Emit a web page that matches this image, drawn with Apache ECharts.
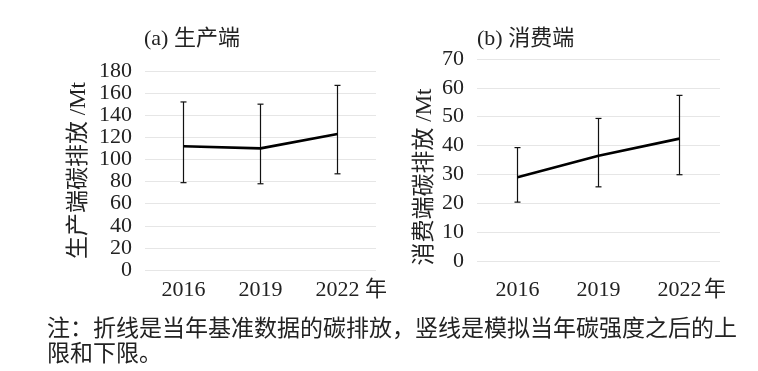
<!DOCTYPE html>
<html>
<head>
<meta charset="utf-8">
<script src="https://cdn.jsdelivr.net/npm/echarts@6/dist/echarts.min.js"></script>
<style>
html,body{margin:0;padding:0;background:#fff;}
#c{width:758px;height:371px;}
</style>
</head>
<body>
<div id="c"></div>
<script>
const years = ['2016', '2019', '2022'];
const prodValues = [112, 110, 123];
const prodUpper = [152, 150, 167];
const prodLower = [79, 78, 87];
const consValues = [29, 36.5, 42.4];
const consUpper = [39.3, 49.4, 57.4];
const consLower = [20.4, 25.7, 29.9];
const prodTicks = {min: 0, max: 180, interval: 20};
const consTicks = {min: 0, max: 70, interval: 10};

const FONT = '"Liberation Serif", "Times New Roman", "Noto Sans CJK SC", serif';
const chart = echarts.init(document.getElementById('c'), null, {renderer: 'canvas'});

function errData(lo, hi) {
  return lo.map((v, i) => [i, v, hi[i]]);
}
function renderErr(params, api) {
  const x = api.value(0);
  const pLo = api.coord([x, api.value(1)]);
  const pHi = api.coord([x, api.value(2)]);
  const w = 3;
  const st = {stroke: '#111', lineWidth: 1.2};
  return {
    type: 'group',
    children: [
      {type: 'line', shape: {x1: pLo[0], y1: pLo[1], x2: pHi[0], y2: pHi[1]}, style: st},
      {type: 'line', shape: {x1: pHi[0] - w, y1: pHi[1], x2: pHi[0] + w, y2: pHi[1]}, style: st},
      {type: 'line', shape: {x1: pLo[0] - w, y1: pLo[1], x2: pLo[0] + w, y2: pLo[1]}, style: st}
    ]
  };
}

function xAx(gi, margin) {
  return {
    type: 'category', gridIndex: gi, data: years, boundaryGap: true,
    axisLine: {show: false}, axisTick: {show: false},
    axisLabel: {fontFamily: FONT, fontSize: 22, color: '#222', margin: margin}
  };
}
function yAx(gi, t, name, gap, pad) {
  return {
    type: 'value', gridIndex: gi, min: t.min, max: t.max, interval: t.interval,
    name: name, nameLocation: 'middle', nameRotate: 90, nameGap: gap,
    nameTextStyle: {fontFamily: FONT, fontSize: 23, color: '#222', padding: pad},
    axisLine: {show: false}, axisTick: {show: false},
    axisLabel: {fontFamily: FONT, fontSize: 22, color: '#222', margin: 13},
    splitLine: {show: true, lineStyle: {color: '#e6e6e6', width: 1}}
  };
}

chart.setOption({
  animation: false,
  backgroundColor: '#fff',
  title: [
    {text: '(a) 生产端', left: 139, top: 23, textStyle: {fontFamily: FONT, fontSize: 22, fontWeight: 'normal', color: '#222'}},
    {text: '(b) 消费端', left: 472, top: 23, textStyle: {fontFamily: FONT, fontSize: 22, fontWeight: 'normal', color: '#222'}}
  ],
  grid: [
    {left: 145, top: 71, width: 231, height: 199},
    {left: 477, top: 59, width: 243, height: 202}
  ],
  xAxis: [xAx(0, 9), xAx(1, 18)],
  yAxis: [
    yAx(0, prodTicks, '生产端碳排放 /Mt', 55, [0, 0, 0, 0]),
    yAx(1, consTicks, '消费端碳排放 /Mt', 41, [0, 34, 0, 0])
  ],
  series: [
    {type: 'custom', xAxisIndex: 0, yAxisIndex: 0, data: errData(prodLower, prodUpper), renderItem: renderErr, z: 2},
    {type: 'line', xAxisIndex: 0, yAxisIndex: 0, data: prodValues, symbol: 'none', lineStyle: {color: '#000', width: 2.6}, z: 3},
    {type: 'custom', xAxisIndex: 1, yAxisIndex: 1, data: errData(consLower, consUpper), renderItem: renderErr, z: 2},
    {type: 'line', xAxisIndex: 1, yAxisIndex: 1, data: consValues, symbol: 'none', lineStyle: {color: '#000', width: 2.6}, z: 3}
  ],
  graphic: [
    {type: 'text', left: 365, top: 279, style: {text: '年', font: '22px ' + FONT, fill: '#222'}},
    {type: 'text', left: 704, top: 279, style: {text: '年', font: '22px ' + FONT, fill: '#222'}},
    {type: 'text', left: 47, top: 317, style: {text: '注：折线是当年基准数据的碳排放，竖线是模拟当年碳强度之后的上\n限和下限。', font: '23px ' + FONT, fill: '#222', lineHeight: 25}}
  ]
});
</script>
</body>
</html>
